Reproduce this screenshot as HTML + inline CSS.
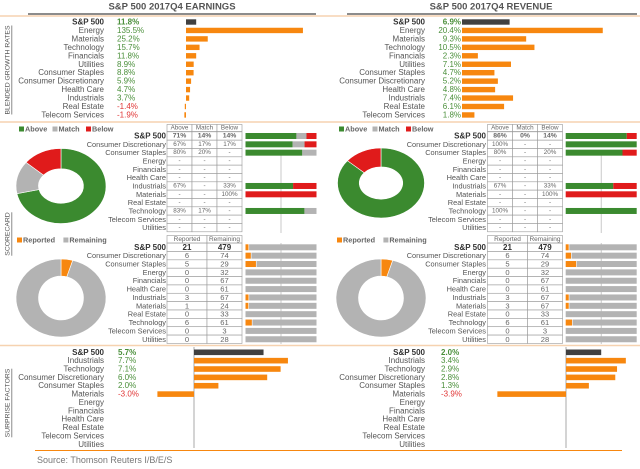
<!DOCTYPE html>
<html><head><meta charset="utf-8">
<style>
html,body{margin:0;padding:0;background:#fff;}
svg{display:block;font-family:"Liberation Sans",Arial,sans-serif;}
</style></head>
<body>
<svg id="dash" width="640" height="469" viewBox="0 0 640 469" xmlns="http://www.w3.org/2000/svg"></svg>
<script>
// ---- data ----
const growthCatsL = ["S&P 500","Energy","Materials","Technology","Financials","Utilities","Consumer Staples","Consumer Discretionary","Health Care","Industrials","Real Estate","Telecom Services"];
const earnGrowth = [11.8,135.5,25.2,15.7,11.8,8.9,8.8,5.9,4.7,3.7,-1.4,-1.9];
const growthCatsR = ["S&P 500","Energy","Materials","Technology","Financials","Utilities","Consumer Staples","Consumer Discretionary","Health Care","Industrials","Real Estate","Telecom Services"];
const revGrowth = [6.9,20.4,9.3,10.5,2.3,7.1,4.7,5.2,4.8,7.4,6.1,1.8];
const sectors = ["S&P 500","Consumer Discretionary","Consumer Staples","Energy","Financials","Health Care","Industrials","Materials","Real Estate","Technology","Telecom Services","Utilities"];
const earnAbove = [71,67,80,null,null,null,67,null,null,83,null,null];
const earnMatch = [14,17,20,null,null,null,null,null,null,17,null,null];
const earnBelow = [14,17,null,null,null,null,33,100,null,null,null,null];
const revAbove = [86,100,80,null,null,null,67,null,null,100,null,null];
const revMatch = [0,null,null,null,null,null,null,null,null,null,null,null];
const revBelow = [14,null,20,null,null,null,33,100,null,null,null,null];
const earnReported = [21,6,5,0,0,0,3,1,0,6,0,0];
const earnRemaining = [479,74,29,32,67,61,67,24,33,61,3,28];
const revReported = [21,6,5,0,0,0,3,3,0,6,0,0];
const revRemaining = [479,74,29,32,67,61,67,67,33,61,3,28];
const surpCats = ["S&P 500","Industrials","Technology","Consumer Discretionary","Consumer Staples","Materials","Energy","Financials","Health Care","Real Estate","Telecom Services","Utilities"];
const earnSurprise = [5.7,7.7,7.1,6.0,2.0,-3.0,null,null,null,null,null,null];
const revSurprise = [2.0,3.4,2.9,2.8,1.3,-3.9,null,null,null,null,null,null];

const NS="http://www.w3.org/2000/svg";
const svg=document.getElementById('dash');
const C={orange:"#f7870f",green:"#3b8a2f",red:"#e01b1b",gray:"#b3b3b3",dark:"#404040",txt:"#555",gtxt:"#4a8f3a",rtxt:"#e03535",peach:"#f6d2b0"};
function el(tag,attrs,parent){const e=document.createElementNS(NS,tag);for(const k in attrs)e.setAttribute(k,attrs[k]);(parent||svg).appendChild(e);return e;}
function txt(s,x,y,o,parent){const t=el('text',Object.assign({x:x,y:y,'font-size':8,fill:C.txt,'dominant-baseline':'central'},o||{}),parent);t.textContent=s;return t;}
function fmtPct(v){return v==null?"-":v+"%";}
function fmtG(v){return v.toFixed(1)+"%";}

let l;
l=el('line',{x1:28,y1:14,x2:316,y2:14,stroke:"#666",'stroke-width':1.5});

l=el('line',{x1:347,y1:14,x2:637,y2:14,stroke:"#666",'stroke-width':1.5});

[[16,0,640],[122,0,640],[345.5,0,640]].forEach(function(a){
  const ln=el('line',{x1:a[1],y1:a[0],x2:a[2],y2:a[0],stroke:C.peach,'stroke-width':1.5});
  
  
});
l=el('line',{x1:35,y1:450.5,x2:320,y2:450.5,stroke:C.orange,'stroke-width':1});

l=el('line',{x1:320,y1:450.5,x2:622,y2:450.5,stroke:C.orange,'stroke-width':1});


let t;
t=txt("S&P 500 2017Q4 EARNINGS",172,7,{'font-size':9.5,'font-weight':'bold','text-anchor':'middle',fill:"#555"});

t=txt("S&P 500 2017Q4 REVENUE",491,7,{'font-size':9.5,'font-weight':'bold','text-anchor':'middle',fill:"#555"});

t=txt("Source: Thomson Reuters I/B/E/S",37,460,{'font-size':9,fill:"#777"});


function vlabel(s,cy,name){
  const g=txt(s,0,0,{'font-size':6.8,'text-anchor':'middle','text-decoration':'underline',fill:"#555",transform:'translate(8,'+cy+') rotate(-90)'});
  
  
}
vlabel("BLENDED GROWTH RATES",70,'growth-rates-side-label');
vlabel("SCORECARD",234,'scorecard-side-label');
vlabel("SURPRISE FACTORS",403,'surprise-side-label');

function growth(cats,vals,cfg){
  cats.forEach(function(c,i){
    const y=22+i*8.45;
    const lb=txt(c,cfg.lx,y,{'text-anchor':'end','font-weight':i==0?'bold':'normal',fill:i==0?"#333":C.txt});
    
    
    const v=vals[i];
    const vt=txt(fmtG(v),cfg.vx,y,{'text-anchor':cfg.va,fill:v<0?C.rtxt:C.gtxt,'font-weight':i==0?'bold':'normal'});
    
    
    const x0=cfg.zero, x1=cfg.zero+v*cfg.scale;
    const r=el('rect',{x:Math.min(x0,x1),y:y-2.7,width:Math.max(Math.abs(x1-x0),0.8),height:5.4,fill:i==0?C.dark:C.orange});
    
    
  });
}
growth(growthCatsL,earnGrowth,{lx:104,vx:117,va:'start',zero:186,scale:0.863});
growth(growthCatsR,revGrowth,{lx:425,vx:461,va:'end',zero:462,scale:6.9});

function donut(vals,colors,cx,cy,rx,ry,irx,iry,name){
  const tot=vals.reduce(function(a,b){return a+b;},0);
  let a=0;
  vals.forEach(function(v,k){
    if(v<=0)return;
    const a0=a/tot*2*Math.PI, a1=(a+v)/tot*2*Math.PI; a+=v;
    const P=function(th,X,Y){return [cx+X*Math.sin(th),cy-Y*Math.cos(th)];};
    const p0=P(a0,rx,ry),p1=P(a1,rx,ry),q1=P(a1,irx,iry),q0=P(a0,irx,iry);
    const lg=(a1-a0)>Math.PI?1:0;
    const d="M"+p0+" A"+rx+" "+ry+" 0 "+lg+" 1 "+p1+" L"+q1+" A"+irx+" "+iry+" 0 "+lg+" 0 "+q0+" Z";
    const p=el('path',{d:d,fill:colors[k],stroke:"#fff",'stroke-width':0.6});
    
    
  });
}
function legend(items,x,y){
  let cx=x;
  items.forEach(function(it){
    const r=el('rect',{x:cx,y:y-2.5,width:5,height:5,fill:it[1]});
    
    
    const tt=txt(it[0],cx+6,y,{'font-size':7.3,'font-weight':'bold',fill:"#666"});
    
    
    cx+=6+it[0].length*4.3+6;
  });
}

function scorecard(ab,ma,be,cfg){
  legend([["Above",C.green],["Match",C.gray],["Below",C.red]],cfg.legx,129);
  donut([ab[0],ma[0],be[0]],[C.green,C.gray,C.red],cfg.dcx,cfg.dcy,cfg.drx,cfg.dry,cfg.drx*0.5,cfg.dry*0.46,'beat-donut-slice');
  const tx=cfg.tx, cw=25, y0=136, dy=8.33;
  const gl=el('line',{x1:cfg.bx+35.5,y1:150,x2:cfg.bx+35.5,y2:233,stroke:"#bbb",'stroke-width':0.8});
  
  
  const hdr=["Above","Match","Below"];
  hdr.forEach(function(h,j){
    const r=el('rect',{x:tx+j*cw,y:124.5,width:cw,height:7,fill:"#fff",stroke:"#999",'stroke-width':0.6});
    
    
    const tt=txt(h,tx+j*cw+cw/2,128.2,{'font-size':6.3,'text-anchor':'middle',fill:"#666"});
    
    
  });
  sectors.forEach(function(s,i){
    const y=y0+i*dy;
    const lb=txt(s,cfg.lx,y,{'font-size':i==0?8:7.4,'text-anchor':'end','font-weight':i==0?'bold':'normal',fill:i==0?"#333":C.txt});
    
    
    [ab[i],ma[i],be[i]].forEach(function(v,j){
      const r=el('rect',{x:tx+j*cw,y:y-dy/2,width:cw,height:dy,fill:"#fff",stroke:"#999",'stroke-width':0.6});
      
      
      const tt=txt(fmtPct(v),tx+j*cw+cw/2,y,{'font-size':i==0?6.8:6.3,'text-anchor':'middle','font-weight':i==0?'bold':'normal',fill:"#666"});
      
      
    });
    const tot=(ab[i]||0)+(ma[i]||0)+(be[i]||0);
    if(tot>0){
      let bx=cfg.bx;
      [[ab[i],C.green],[ma[i],C.gray],[be[i],C.red]].forEach(function(p){
        if(!p[0])return;
        const w=p[0]/tot*71;
        const r=el('rect',{x:bx,y:y-3,width:w,height:6,fill:p[1]});
        
        
        bx+=w;
      });
    }
  });
}
scorecard(earnAbove,earnMatch,earnBelow,{legx:19,dcx:61,dcy:186,drx:45,dry:37.5,tx:167,lx:166,bx:245.5});
scorecard(revAbove,revMatch,revBelow,{legx:339,dcx:381,dcy:183,drx:43.5,dry:35,tx:487.5,lx:486,bx:565.7});

function reported(rep,rem,cfg){
  legend([["Reported",C.orange],["Remaining",C.gray]],cfg.legx,240);
  donut([rep[0],rem[0]],[C.orange,C.gray],cfg.dcx,298,45,39,22.5,22,'reported-donut-slice');
  const tx=cfg.tx, widths=[40,35], y0=247.3, dy=8.36;
  const gl=el('line',{x1:cfg.bx+35.5,y1:243,x2:cfg.bx+35.5,y2:344,stroke:"#bbb",'stroke-width':0.8});
  
  
  ["Reported","Remaining"].forEach(function(h,j){
    const x=tx+(j?widths[0]:0);
    const r=el('rect',{x:x,y:235.5,width:widths[j],height:7.5,fill:"#fff",stroke:"#999",'stroke-width':0.6});
    
    
    const tt=txt(h,x+widths[j]/2,239.4,{'font-size':6.5,'text-anchor':'middle',fill:"#666"});
    
    
  });
  sectors.forEach(function(s,i){
    const y=y0+i*dy;
    const lb=txt(s,cfg.lx,y,{'font-size':i==0?8:7.4,'text-anchor':'end','font-weight':i==0?'bold':'normal',fill:i==0?"#333":C.txt});
    
    
    [rep[i],rem[i]].forEach(function(v,j){
      const x=tx+(j?widths[0]:0);
      const r=el('rect',{x:x,y:y-dy/2,width:widths[j],height:dy,fill:"#fff",stroke:"#999",'stroke-width':0.6});
      
      
      const tt=txt(String(v),x+widths[j]/2,y,{'font-size':i==0?8:7.6,'text-anchor':'middle','font-weight':i==0?'bold':'normal',fill:i==0?"#333":"#666"});
      
      
    });
    const tot=rep[i]+rem[i], w1=rep[i]/tot*71;
    const r1=el('rect',{x:cfg.bx,y:y-3,width:w1,height:6,fill:C.orange});
    
    
    const r2=el('rect',{x:cfg.bx+w1+(w1>0?0.6:0),y:y-3,width:71-w1-(w1>0?0.6:0),height:6,fill:C.gray});
    
    
  });
}
reported(earnReported,earnRemaining,{legx:17,dcx:61,tx:167,lx:166,bx:245.5});
reported(revReported,revRemaining,{legx:337,dcx:381,tx:487.5,lx:486,bx:565.7});

function surprise(cats,vals,cfg){
  const ax=el('line',{x1:cfg.zero,y1:347,x2:cfg.zero,y2:448,stroke:"#aaa",'stroke-width':1});
  
  
  cats.forEach(function(c,i){
    const y=352.3+i*8.36;
    const lb=txt(c,cfg.lx,y,{'text-anchor':'end','font-weight':i==0?'bold':'normal',fill:i==0?"#333":C.txt});
    
    
    const v=vals[i];
    if(v==null)return;
    const vt=txt(fmtG(v),cfg.vx,y,{fill:v<0?C.rtxt:C.gtxt,'font-weight':i==0?'bold':'normal'});
    
    
    const x1=cfg.zero+v*cfg.scale;
    const r=el('rect',{x:Math.min(cfg.zero,x1),y:y-2.8,width:Math.abs(x1-cfg.zero),height:5.6,fill:i==0?C.dark:C.orange});
    
    
  });
}
surprise(surpCats,earnSurprise,{lx:104,vx:118,zero:194,scale:12.2});
surprise(surpCats,revSurprise,{lx:425,vx:441,zero:566,scale:17.6});
</script>
</body></html>
